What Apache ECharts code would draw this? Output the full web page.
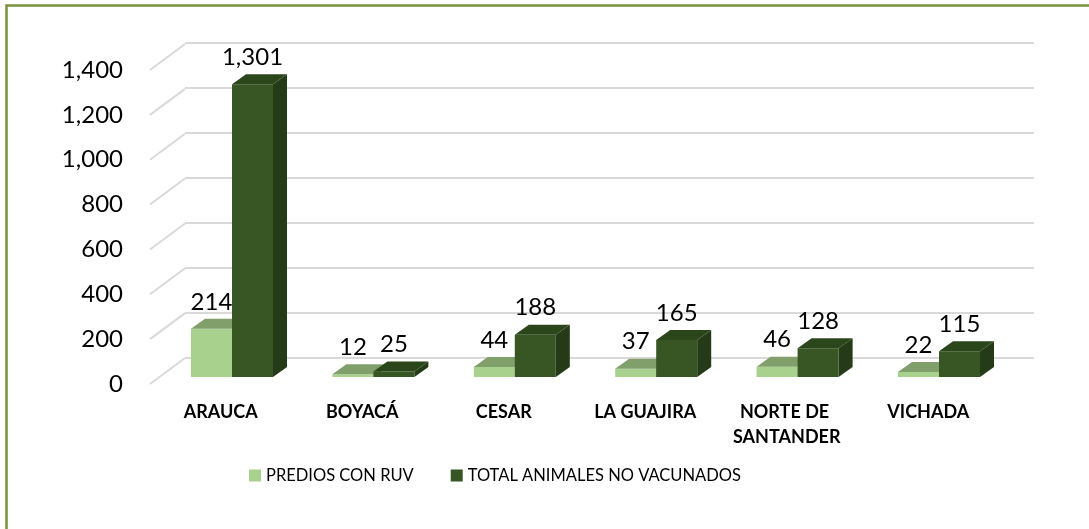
<!DOCTYPE html>
<html>
  <head>
    <meta charset="utf-8">
    <title>Predios con RUV</title>
    <script src="https://cdn.jsdelivr.net/npm/echarts/dist/echarts.min.js"></script>
  </head>
  <body style="margin:0;background:#fff;">
    <div id="main" style="width:1089px;height:529px;"></div>
    <script>
// datos
var departamentos = ['ARAUCA', 'BOYACÁ', 'CESAR', 'LA GUAJIRA', 'NORTE DE SANTANDER', 'VICHADA'];
var prediosRuv = [214, 12, 44, 37, 46, 22];
var animalesNoVac = [1301, 25, 188, 165, 128, 115];
var ticksY = [0, 200, 400, 600, 800, 1000, 1200, 1400];
var nombres = ['PREDIOS CON RUV', 'TOTAL ANIMALES NO VACUNADOS'];

var fuente = 'Lato, "Open Sans", sans-serif';
var fmt = function (v) { return Number(v).toLocaleString('en-US'); };

// profundidad de las barras y de las paredes (efecto 3D)
var barDx = 14, barDy = 10;
var wallDx = 35, wallDy = 26;

function barra3d(pos, cFrente, cArriba, cLado) {
  return function (params, api) {
    var base = api.coord([api.value(0), 0]);
    var tope = api.coord([api.value(0), api.value(1)]);
    var w = api.size([1, 0])[0] * 0.29;
    var x0 = base[0] - w + pos * w;
    var yt = tope[1], yb = base[1];
    return {
      type: 'group',
      children: [
        { type: 'polygon', shape: { points: [[x0 + w, yt], [x0 + w + barDx, yt - barDy], [x0 + w + barDx, yb - barDy], [x0 + w, yb]] },
          style: { fill: cLado } },
        { type: 'rect', shape: { x: x0, y: yt, width: w, height: yb - yt }, style: { fill: cFrente } },
        { type: 'polygon', shape: { points: [[x0, yt], [x0 + barDx, yt - barDy], [x0 + w + barDx, yt - barDy], [x0 + w, yt]] },
          style: { fill: cArriba } },
        { type: 'text', style: { text: fmt(api.value(1)), x: x0 + w / 2, y: yt - 27, align: 'center', verticalAlign: 'middle',
          font: '24px ' + fuente, fill: '#000' } }
      ]
    };
  };
}

var myChart = echarts.init(document.getElementById('main'));
myChart.setOption({
  animation: false,
  graphic: [{
    type: 'rect', shape: { x: 6.5, y: 5.5, width: 1100, height: 540 },
    style: { fill: 'none', stroke: '#77933C', lineWidth: 2.5 }
  }],
  legend: {
    data: nombres, left: 249, top: 467, padding: 0, icon: 'rect', itemWidth: 12, itemHeight: 12, itemGap: 37,
    textStyle: { fontFamily: fuente, fontSize: 16.5, color: '#000' }
  },
  grid: [
    { left: 185, right: 55, top: 43, bottom: 171 },   // pared del fondo
    { left: 150, right: 90, top: 70, bottom: 145 },   // frente (etiquetas)
    { left: 161.3, right: 79.3, top: 62, bottom: 152 } // barras
  ],
  xAxis: [
    { gridIndex: 0, type: 'category', data: departamentos, show: false },
    { gridIndex: 1, type: 'category', data: departamentos,
      axisLine: { show: false }, axisTick: { show: false },
      axisLabel: { interval: 0, margin: 16, color: '#000', fontFamily: fuente, fontWeight: 'bold', fontSize: 18,
        lineHeight: 25, width: 125, overflow: 'break' } },
    { gridIndex: 2, type: 'category', data: departamentos, show: false }
  ],
  yAxis: [
    { gridIndex: 0, type: 'value', min: 0, max: 1400, interval: 200,
      axisLabel: { show: false }, axisLine: { show: false }, axisTick: { show: false },
      splitLine: { lineStyle: { color: '#D9D9D9', width: 2 } } },
    { gridIndex: 1, type: 'value', min: 0, max: 1400, interval: 200,
      axisLine: { show: false }, axisTick: { show: false }, splitLine: { show: false },
      axisLabel: { margin: 27, color: '#000', fontFamily: fuente, fontSize: 24, formatter: fmt } },
    { gridIndex: 2, type: 'value', min: 0, max: 1400, show: false, splitLine: { show: false } }
  ],
  series: [
    {
      // diagonales de la pared lateral
      type: 'custom', xAxisIndex: 1, yAxisIndex: 1, silent: true, z: 1,
      data: ticksY.map(function (v) { return [0, v]; }),
      renderItem: function (params, api) {
        var x = params.coordSys.x;
        var y = api.coord([0, api.value(1)])[1];
        return { type: 'line', shape: { x1: x, y1: y, x2: x + wallDx, y2: y - wallDy },
          style: { stroke: '#D9D9D9', lineWidth: 2 } };
      }
    },
    {
      name: nombres[0], type: 'custom', xAxisIndex: 2, yAxisIndex: 2, z: 3,
      itemStyle: { color: '#A9D18E' },
      data: prediosRuv.map(function (v, i) { return [i, v]; }),
      renderItem: barra3d(0, '#A9D18E', '#809F6B', '#6E8C5A')
    },
    {
      name: nombres[1], type: 'custom', xAxisIndex: 2, yAxisIndex: 2, z: 4,
      itemStyle: { color: '#375623' },
      data: animalesNoVac.map(function (v, i) { return [i, v]; }),
      renderItem: barra3d(1, '#375623', '#2C461C', '#253B17')
    }
  ]
});
    </script>
  </body>
</html>
